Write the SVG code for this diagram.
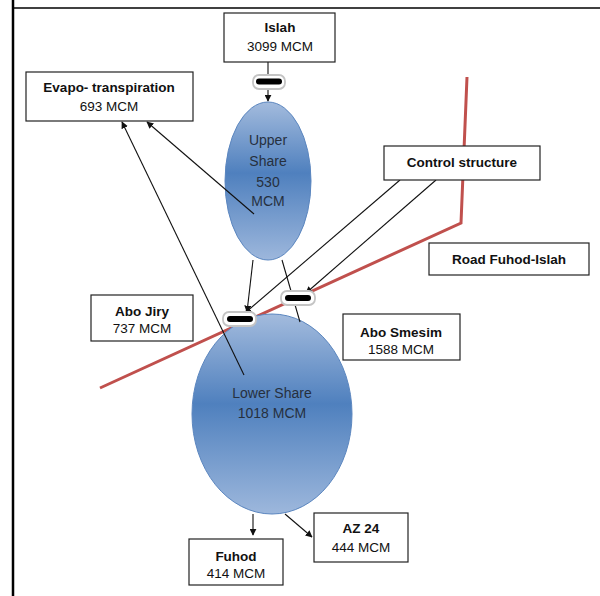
<svg xmlns="http://www.w3.org/2000/svg" width="600" height="596" viewBox="0 0 600 596">
<defs>
<style>
.box{fill:#fff;stroke:#222;stroke-width:1.2}
.t{font-family:"Liberation Sans",Arial,sans-serif;font-size:13.5px;fill:#111;text-anchor:middle}
.b{font-weight:bold}
.e{font-family:"Liberation Sans",Arial,sans-serif;font-size:14px;fill:#26303e;text-anchor:middle}
.c{stroke:#111;stroke-width:1.1;fill:none}
.a{marker-end:url(#arr)}
.vbg{fill:#fff;stroke:#c4c4c4;stroke-width:1.8}
.vbar{fill:#000}
</style>
<marker id="arr" viewBox="0 0 10 10" refX="9" refY="5" markerWidth="7" markerHeight="7" orient="auto" markerUnits="userSpaceOnUse">
<path d="M0,0 L10,5 L0,10 z" fill="#111"/>
</marker>
<linearGradient id="g" x1="0" y1="0" x2="0" y2="1">
<stop offset="0" stop-color="#a3bbdd"/>
<stop offset="0.45" stop-color="#4f80be"/>
<stop offset="1" stop-color="#9db7dc"/>
</linearGradient>
</defs>
<!-- frame -->
<line x1="13" y1="0" x2="13" y2="596" stroke="#000" stroke-width="2.5"/>
<line x1="13" y1="8" x2="600" y2="8" stroke="#000" stroke-width="1.5"/>
<!-- road -->
<polyline points="467,77 461,223 100,388" fill="none" stroke="#c0504d" stroke-width="3"/>
<g id="upper">
<ellipse cx="268" cy="181" rx="43" ry="79" fill="url(#g)" stroke="#5b86bf" stroke-width="1"/>
<text class="e" x="268" y="145">Upper</text>
<text class="e" x="268" y="166">Share</text>
<text class="e" x="268" y="187">530</text>
<text class="e" x="268" y="206">MCM</text>
</g>
<g id="lower">
<ellipse cx="272" cy="414" rx="80" ry="100" fill="url(#g)" stroke="#5b86bf" stroke-width="1"/>
<text class="e" x="272" y="398">Lower Share</text>
<text class="e" x="272" y="418">1018 MCM</text>
</g>
<g id="connectors">
<line class="c a" x1="268" y1="62" x2="268" y2="101"/>
<line class="c a" x1="254" y1="214" x2="147" y2="122"/>
<line class="c a" x1="244" y1="375" x2="122" y2="122"/>
<line class="c a" x1="253" y1="260" x2="247" y2="312"/>
<line class="c" x1="282" y1="260" x2="300" y2="322"/>
<line class="c a" x1="400" y1="180" x2="245" y2="313"/>
<line class="c a" x1="436" y1="180" x2="306" y2="293"/>
<line class="c a" x1="253" y1="514" x2="253" y2="535"/>
<line class="c a" x1="285" y1="514" x2="312" y2="537"/>
</g>
<g id="valve-islah">
<rect class="vbg" x="253" y="75" width="32" height="14" rx="6"/>
<rect class="vbar" x="256" y="78.5" width="26" height="6" rx="3"/>
</g>
<g id="valve-abojiry">
<rect class="vbg" x="223" y="312" width="33" height="14" rx="6"/>
<rect class="vbar" x="227" y="316" width="26" height="6" rx="3"/>
</g>
<g id="valve-abosmesim">
<rect class="vbg" x="281" y="291" width="34" height="14" rx="6"/>
<rect class="vbar" x="285" y="295" width="26" height="6" rx="3"/>
</g>
<g id="islah">
<rect class="box" x="224" y="13" width="111" height="49"/>
<text class="t b" x="280" y="32">Islah</text>
<text class="t" x="280" y="51">3099 MCM</text>
</g>
<g id="evapo">
<rect class="box" x="26" y="72" width="167" height="49"/>
<text class="t b" x="109" y="92">Evapo- transpiration</text>
<text class="t" x="109" y="111">693 MCM</text>
</g>
<g id="control">
<rect class="box" x="384" y="146" width="156" height="34"/>
<text class="t b" x="462" y="167">Control structure</text>
</g>
<g id="road">
<rect class="box" x="429" y="243" width="160" height="32"/>
<text class="t b" x="509" y="264">Road Fuhod-Islah</text>
</g>
<g id="abojiry">
<rect class="box" x="91" y="295" width="102" height="46"/>
<text class="t b" x="142" y="316">Abo Jiry</text>
<text class="t" x="142" y="333">737 MCM</text>
</g>
<g id="abosmesim">
<rect class="box" x="343" y="314" width="117" height="46"/>
<text class="t b" x="401" y="337">Abo Smesim</text>
<text class="t" x="401" y="354">1588 MCM</text>
</g>
<g id="fuhod">
<rect class="box" x="189" y="539" width="94" height="46"/>
<text class="t b" x="236" y="561">Fuhod</text>
<text class="t" x="236" y="578">414 MCM</text>
</g>
<g id="az24">
<rect class="box" x="314" y="513" width="94" height="49"/>
<text class="t b" x="361" y="533">AZ 24</text>
<text class="t" x="361" y="552">444 MCM</text>
</g>
</svg>
